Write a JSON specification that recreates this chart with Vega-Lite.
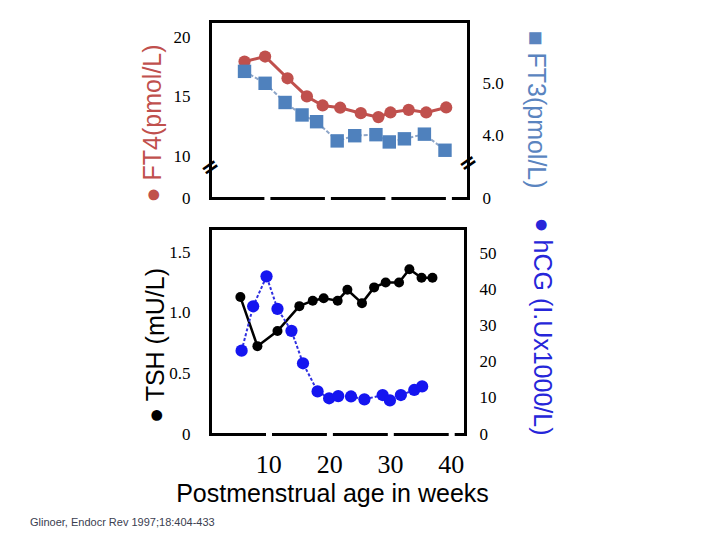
{
  "$schema": "https://vega.github.io/schema/vega-lite/v6.json",
  "background": "white",
  "padding": {"left": 30, "top": 21, "right": 5, "bottom": 5},
  "title": {
    "text": "Glinoer, Endocr Rev 1997;18:404-433",
    "orient": "bottom",
    "anchor": "start",
    "dx": -110,
    "offset": 11,
    "font": "Liberation Sans",
    "fontSize": 11,
    "fontWeight": "normal",
    "color": "#3a4050"
  },
  "datasets": {
    "ft4": [
      {"week": 6.3, "v": 17.96}, {"week": 9.7, "v": 18.38}, {"week": 13.4, "v": 16.55},
      {"week": 16.6, "v": 15.02}, {"week": 19.2, "v": 14.26}, {"week": 22.1, "v": 14.07},
      {"week": 25.5, "v": 13.61}, {"week": 28.4, "v": 13.28}, {"week": 30.4, "v": 13.67},
      {"week": 33.4, "v": 13.89}, {"week": 36.3, "v": 13.67}, {"week": 39.6, "v": 14.09}
    ],
    "ft3": [
      {"week": 6.3, "v": 5.23}, {"week": 9.7, "v": 5.0}, {"week": 13.0, "v": 4.63},
      {"week": 15.8, "v": 4.39}, {"week": 18.2, "v": 4.26}, {"week": 21.6, "v": 3.89},
      {"week": 24.5, "v": 3.99}, {"week": 28.0, "v": 4.01}, {"week": 30.2, "v": 3.87},
      {"week": 32.7, "v": 3.93}, {"week": 36.0, "v": 4.02}, {"week": 39.4, "v": 3.71}
    ],
    "brk": [
      {"week": 0.6, "v": 9.05}, {"week": 43.2, "v": 9.41}
    ],
    "tsh": [
      {"week": 5.4, "v": 1.13}, {"week": 8.2, "v": 0.725}, {"week": 11.5, "v": 0.85},
      {"week": 15.1, "v": 1.055}, {"week": 17.3, "v": 1.1}, {"week": 19.1, "v": 1.12},
      {"week": 21.4, "v": 1.1}, {"week": 23.0, "v": 1.19}, {"week": 25.4, "v": 1.08},
      {"week": 27.4, "v": 1.21}, {"week": 29.3, "v": 1.25}, {"week": 31.5, "v": 1.25},
      {"week": 33.2, "v": 1.36}, {"week": 35.2, "v": 1.29}, {"week": 37.0, "v": 1.29}
    ],
    "hcg": [
      {"week": 5.6, "v": 23.1}, {"week": 7.5, "v": 35.4}, {"week": 9.7, "v": 43.7},
      {"week": 11.5, "v": 34.7}, {"week": 13.8, "v": 28.6}, {"week": 15.7, "v": 19.6},
      {"week": 18.1, "v": 11.8}, {"week": 20.0, "v": 9.9}, {"week": 21.5, "v": 10.5},
      {"week": 23.6, "v": 10.4}, {"week": 25.8, "v": 9.6}, {"week": 28.8, "v": 10.8},
      {"week": 30.0, "v": 9.3}, {"week": 31.8, "v": 10.8}, {"week": 34.0, "v": 12.2},
      {"week": 35.3, "v": 13.2}
    ]
  },
  "spacing": 30,
  "bounds": "flush",
  "vconcat": [
    {
      "width": 258,
      "height": 177,
      "layer": [
        {
          "data": {"name": "ft4"},
          "encoding": {
            "x": {
              "field": "week", "type": "quantitative",
              "scale": {"domain": [0.6, 43.2], "nice": false, "zero": false},
              "axis": {"orient": "bottom", "labels": false, "ticks": false, "title": null,
                       "domainDash": [54.5, 6], "domainDashOffset": 0.6}
            },
            "y": {
              "field": "v", "type": "quantitative",
              "scale": {"domain": [6.47, 21.37], "nice": false, "zero": false},
              "axis": {
                "orient": "left", "values": [6.47, 10, 15, 20],
                "labelExpr": "datum.value < 9 ? '0' : format(datum.value, 'd')",
                "labelPadding": 20,
                "title": "● FT4(pmol/L)", "titleColor": "#c0504d",
                "titleX": -58, "titleY": 102, "titleAngle": 270,
                "titleBaseline": "middle", "titleAlign": "center",
                "domainCap": "square"
              }
            }
          },
          "layer": [
            {"mark": {"type": "line", "color": "#c0504d", "strokeWidth": 3}},
            {"mark": {"type": "point", "shape": "circle", "filled": true, "opacity": 1, "color": "#c0504d", "size": 150}},
            {
              "data": {"name": "brk"},
              "mark": {"type": "text", "text": "=", "font": "DejaVu Sans", "fontWeight": "bold", "fontSize": 22, "angle": -35, "color": "black", "baseline": "middle", "align": "center"}
            }
          ]
        },
        {
          "data": {"name": "ft3"},
          "encoding": {
            "x": {
              "field": "week", "type": "quantitative",
              "scale": {"domain": [0.6, 43.2], "nice": false, "zero": false},
              "axis": {"orient": "top", "labels": false, "ticks": false, "title": null, "domainCap": "square"}
            },
            "y": {
              "field": "v", "type": "quantitative",
              "scale": {"domain": [2.79, 6.2], "nice": false, "zero": false},
              "axis": {
                "orient": "right", "values": [2.79, 4, 5],
                "labelExpr": "datum.value < 3 ? '0' : format(datum.value, '.1f')",
                "labelPadding": 14,
                "title": "■ FT3(pmol/L)", "titleColor": "#5a84bf",
                "titleX": 67, "titleY": 88, "titleAngle": 90,
                "titleBaseline": "middle", "titleAlign": "center",
                "domainCap": "square"
              }
            }
          },
          "layer": [
            {"mark": {"type": "line", "color": "#8ea6c8", "strokeWidth": 2, "strokeDash": [4, 2]}},
            {"mark": {"type": "point", "shape": "square", "filled": true, "opacity": 1, "color": "#4f81bd", "size": 180}}
          ]
        }
      ],
      "resolve": {"scale": {"y": "independent"}, "axis": {"y": "independent", "x": "independent"}}
    },
    {
      "width": 255,
      "height": 206,
      "layer": [
        {
          "data": {"name": "tsh"},
          "encoding": {
            "x": {
              "field": "week", "type": "quantitative",
              "scale": {"domain": [0.4, 42.35], "nice": false, "zero": false},
              "axis": {
                "orient": "bottom", "values": [10, 20, 30, 40], "ticks": false,
                "labelFont": "Liberation Serif", "labelFontSize": 26,
                "labelBaseline": "alphabetic", "labelPadding": 38,
                "title": "Postmenstrual age in weeks", "titleFont": "Liberation Sans",
                "titleFontSize": 25, "titleFontWeight": "normal", "titleColor": "black",
                "titleBaseline": "alphabetic", "titleY": 67, "titleX": 122, "titleAlign": "center",
                "domainDash": [54.9, 6], "domainDashOffset": -0.6
              }
            },
            "y": {
              "field": "v", "type": "quantitative",
              "scale": {"domain": [0, 1.7], "nice": false, "zero": false},
              "axis": {
                "orient": "left", "values": [0, 0.5, 1, 1.5],
                "labelExpr": "datum.value == 0 ? '0' : format(datum.value, '.1f')",
                "labelPadding": 20,
                "title": "● TSH (mU/L)", "titleColor": "black",
                "titleX": -55, "titleY": 117, "titleAngle": 270,
                "titleBaseline": "middle", "titleAlign": "center",
                "domainCap": "square"
              }
            }
          },
          "layer": [
            {"mark": {"type": "line", "color": "black", "strokeWidth": 2.5}},
            {"mark": {"type": "point", "shape": "circle", "filled": true, "opacity": 1, "color": "black", "size": 100}}
          ]
        },
        {
          "data": {"name": "hcg"},
          "encoding": {
            "x": {
              "field": "week", "type": "quantitative",
              "scale": {"domain": [0.4, 42.35], "nice": false, "zero": false},
              "axis": {"orient": "top", "labels": false, "ticks": false, "title": null, "domainCap": "square"}
            },
            "y": {
              "field": "v", "type": "quantitative",
              "scale": {"domain": [0, 57.1], "nice": false, "zero": false},
              "axis": {
                "orient": "right", "values": [0, 10, 20, 30, 40, 50],
                "labelPadding": 14,
                "title": "● hCG (I.Ux1000/L)", "titleColor": "#2626d9",
                "titleX": 76, "titleY": 98, "titleAngle": 90,
                "titleBaseline": "middle", "titleAlign": "center",
                "domainCap": "square"
              }
            }
          },
          "layer": [
            {"mark": {"type": "line", "color": "#3030e0", "strokeWidth": 2, "strokeDash": [3, 2]}},
            {"mark": {"type": "point", "shape": "circle", "filled": true, "opacity": 1, "color": "#1515f0", "size": 150}}
          ]
        }
      ],
      "resolve": {"scale": {"y": "independent"}, "axis": {"y": "independent", "x": "independent"}}
    }
  ],
  "config": {
    "view": {"stroke": null},
    "axis": {
      "grid": false,
      "ticks": false,
      "tickSize": 0,
      "domainColor": "black",
      "domainWidth": 3,
      "labelFont": "Liberation Serif",
      "labelFontSize": 17,
      "labelColor": "black",
      "labelFlush": false,
      "labelOverlap": false,
      "titleFont": "Liberation Sans",
      "titleFontSize": 25,
      "titleFontWeight": "normal"
    }
  }
}
